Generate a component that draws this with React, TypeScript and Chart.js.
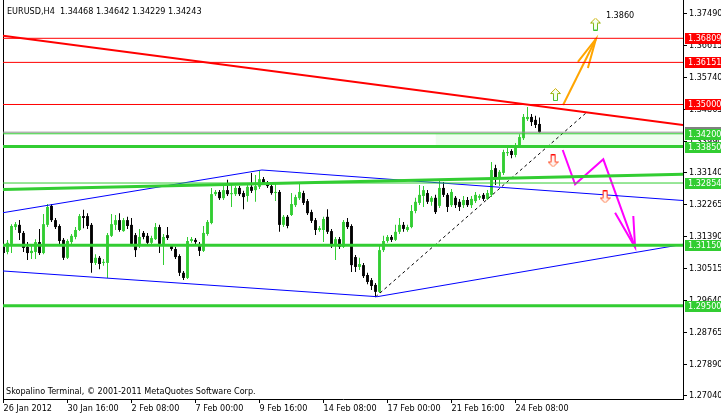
import React, { useEffect, useRef } from 'react';
import { Chart, registerables } from 'chart.js';

Chart.register(...registerables);

// ---------- axes ----------
const xTickSlots = [0, 16, 32, 48, 64, 80, 96, 112, 128];
const xTickLabels = ['26 Jan 2012', '30 Jan 16:00', '2 Feb 08:00', '7 Feb 00:00', '9 Feb 16:00', '14 Feb 08:00', '17 Feb 00:00', '21 Feb 16:00', '24 Feb 08:00'];
const yTickLabels = ['1.37490', '1.36615', '1.35740', '1.34865', '1.33990', '1.33140', '1.32265', '1.31390', '1.30515', '1.29640', '1.28765', '1.27890', '1.27040'];
const yRange = [1.26951, 1.37856];
const xRange = [-0.125, 169.875];

// ---------- EURUSD H4 candles ----------
const opens = [
  1.3111, 1.3097, 1.3119, 1.3165, 1.3171, 1.3149, 1.3111, 1.3094, 1.3097, 1.3124,
  1.3094, 1.3171, 1.3223, 1.3184, 1.3168, 1.3130, 1.3081, 1.3124, 1.3138, 1.3157,
  1.3195, 1.3195, 1.3171, 1.3067, 1.3081, 1.3067, 1.3067, 1.3141, 1.3171, 1.3184,
  1.3154, 1.3184, 1.3171, 1.3143, 1.3113, 1.3149, 1.3141, 1.3122, 1.3132, 1.3165,
  1.3113, 1.3143, 1.3113, 1.3105, 1.3086, 1.3040, 1.3026, 1.3127, 1.3130, 1.3119,
  1.3100, 1.3146, 1.3176, 1.3255, 1.3261, 1.3244, 1.3266, 1.3255, 1.3255, 1.3272,
  1.3258, 1.3250, 1.3275, 1.3266, 1.3275, 1.3296, 1.3285, 1.3277, 1.3258, 1.3261,
  1.3171, 1.3193, 1.3198, 1.3225, 1.3244, 1.3258, 1.3236, 1.3206, 1.3184, 1.3157,
  1.3157, 1.3193, 1.3154, 1.3113, 1.3132, 1.3111, 1.3179, 1.3168, 1.3083, 1.3056,
  1.3061, 1.3034, 1.3020, 1.3007, 1.2988, 1.3102, 1.3127, 1.3138, 1.3130, 1.3152,
  1.3171, 1.3157, 1.3165, 1.3209, 1.3231, 1.3250, 1.3258, 1.3234, 1.3245, 1.3223,
  1.3272, 1.3253, 1.3225, 1.3245, 1.3234, 1.3225, 1.3239, 1.3225, 1.3236, 1.3245,
  1.3253, 1.3242, 1.3253, 1.3326, 1.3299, 1.3313, 1.3367, 1.3373, 1.3362, 1.3387,
  1.3408, 1.3460, 1.3466, 1.3458, 1.34468,
];
const highs = [
  1.3119, 1.3130, 1.3173, 1.3179, 1.3184, 1.3154, 1.3124, 1.3119, 1.3132, 1.3160,
  1.3201, 1.3228, 1.3228, 1.3190, 1.3173, 1.3135, 1.3132, 1.3146, 1.3165, 1.3201,
  1.3212, 1.3203, 1.3176, 1.3091, 1.3086, 1.3078, 1.3149, 1.3201, 1.3198, 1.3203,
  1.3190, 1.3193, 1.3190, 1.3149, 1.3160, 1.3154, 1.3149, 1.3141, 1.3176, 1.3171,
  1.3146, 1.3165, 1.3119, 1.3111, 1.3091, 1.3045, 1.3138, 1.3138, 1.3135, 1.3124,
  1.3168, 1.3184, 1.3272, 1.3266, 1.3266, 1.3277, 1.3294, 1.3285, 1.3277, 1.3277,
  1.3264, 1.3280, 1.3313, 1.3307, 1.3318, 1.3302, 1.3291, 1.3283, 1.3288, 1.3266,
  1.3198, 1.3198, 1.3258, 1.3253, 1.3285, 1.3264, 1.3242, 1.3212, 1.3190, 1.3168,
  1.3193, 1.3214, 1.3160, 1.3138, 1.3138, 1.3184, 1.3190, 1.3173, 1.3089, 1.3081,
  1.3067, 1.3040, 1.3026, 1.3012, 1.3116, 1.3141, 1.3143, 1.3143, 1.3171, 1.3190,
  1.3179, 1.3171, 1.3225, 1.3245, 1.3280, 1.3277, 1.3266, 1.3250, 1.3253, 1.3294,
  1.3288, 1.3258, 1.3269, 1.3250, 1.3242, 1.3250, 1.3247, 1.3250, 1.3261, 1.3255,
  1.3258, 1.3266, 1.3343, 1.3335, 1.3321, 1.3376, 1.3387, 1.3378, 1.3395, 1.3419,
  1.3474, 1.3493, 1.3474, 1.3469, 1.34642,
];
const lows = [
  1.3089, 1.3091, 1.3094, 1.3157, 1.3130, 1.3097, 1.3075, 1.3078, 1.3078, 1.3089,
  1.3091, 1.3165, 1.3179, 1.3160, 1.3119, 1.3075, 1.3078, 1.3119, 1.3132, 1.3154,
  1.3162, 1.3160, 1.3040, 1.3061, 1.3050, 1.3059, 1.3026, 1.3138, 1.3157, 1.3152,
  1.3152, 1.3160, 1.3113, 1.3083, 1.3108, 1.3132, 1.3116, 1.3116, 1.3130, 1.3094,
  1.3061, 1.3130, 1.3100, 1.3078, 1.3031, 1.3020, 1.3023, 1.3122, 1.3119, 1.3086,
  1.3097, 1.3141, 1.3173, 1.3250, 1.3239, 1.3239, 1.3250, 1.3220, 1.3250, 1.3250,
  1.3214, 1.3234, 1.3258, 1.3234, 1.3269, 1.3280, 1.3272, 1.3253, 1.3236, 1.3152,
  1.3165, 1.3162, 1.3195, 1.3220, 1.3239, 1.3225, 1.3198, 1.3176, 1.3143, 1.3152,
  1.3124, 1.3146, 1.3108, 1.3075, 1.3105, 1.3108, 1.3160, 1.3042, 1.3042, 1.3048,
  1.3026, 1.3009, 1.2993, 1.2974, 1.2985, 1.3097, 1.3122, 1.3124, 1.3127, 1.3146,
  1.3152, 1.3152, 1.3162, 1.3203, 1.3225, 1.3220, 1.3228, 1.3223, 1.3201, 1.3217,
  1.3247, 1.3206, 1.3220, 1.3217, 1.3209, 1.3217, 1.3220, 1.3217, 1.3231, 1.3239,
  1.3236, 1.3239, 1.3247, 1.3280, 1.3277, 1.3307, 1.3359, 1.3353, 1.3356, 1.3381,
  1.3403, 1.3455, 1.3441, 1.3436, 1.34229,
];
const closes = [
  1.3094, 1.3122, 1.3168, 1.3173, 1.3149, 1.3108, 1.3094, 1.3100, 1.3124, 1.3094,
  1.3173, 1.3220, 1.3184, 1.3165, 1.3127, 1.3081, 1.3127, 1.3141, 1.3157, 1.3195,
  1.3190, 1.3168, 1.3067, 1.3081, 1.3064, 1.3070, 1.3143, 1.3173, 1.3184, 1.3157,
  1.3184, 1.3168, 1.3119, 1.3102, 1.3138, 1.3138, 1.3122, 1.3135, 1.3165, 1.3119,
  1.3138, 1.3135, 1.3105, 1.3083, 1.3040, 1.3026, 1.3127, 1.3132, 1.3124, 1.3100,
  1.3149, 1.3179, 1.3255, 1.3261, 1.3244, 1.3266, 1.3255, 1.3256, 1.3272, 1.3255,
  1.3247, 1.3275, 1.3264, 1.3277, 1.3296, 1.3285, 1.3277, 1.3258, 1.3261, 1.3171,
  1.3193, 1.3168, 1.3228, 1.3247, 1.3261, 1.3231, 1.3203, 1.3182, 1.3157, 1.3162,
  1.3187, 1.3152, 1.3113, 1.3132, 1.3111, 1.3179, 1.3165, 1.3061, 1.3056, 1.3064,
  1.3031, 1.3015, 1.3004, 1.2988, 1.3102, 1.3127, 1.3138, 1.3130, 1.3152, 1.3171,
  1.3160, 1.3165, 1.3209, 1.3234, 1.3253, 1.3266, 1.3234, 1.3245, 1.3206, 1.3272,
  1.3253, 1.3220, 1.3261, 1.3225, 1.3220, 1.3239, 1.3225, 1.3242, 1.3253, 1.3250,
  1.3242, 1.3258, 1.3321, 1.3299, 1.3316, 1.3370, 1.3370, 1.3362, 1.3389, 1.3411,
  1.3466, 1.3466, 1.3452, 1.3444, 1.34243,
];

// ---------- horizontal levels ----------
const redLevels = [1.36809, 1.36151, 1.35];
const greenThinLevels = [1.342, 1.32854];
const greenThickLevels = [1.3385, 1.3115, 1.295];
const bidPrice = 1.34243;
const labelLevels = [1.36809, 1.36151, 1.35, 1.342, 1.3385, 1.32854, 1.3115, 1.295];
const labelColors = ['#FF0000', '#FF0000', '#FF0000', '#32CD32', '#32CD32', '#32CD32', '#32CD32', '#32CD32'];

// ---------- drawn objects (slot index, price) ----------
const redTrendX = [-0.125, 169.875];
const redTrendY = [1.3688, 1.3444];
const greenTrendX = [-0.125, 169.875];
const greenTrendY = [1.32677, 1.33092];
const blueUpperX = [-0.125, 64.6, 169.875];
const blueUpperY = [1.32043, 1.3321, 1.32376];
const blueLowerX = [-0.125, 93.4, 169.875];
const blueLowerY = [1.3045, 1.29747, 1.31179];
const dashX = [93, 145.9];
const dashY = [1.2974, 1.34795];
const orangeShaftX = [139.9, 148.1];
const orangeShaftY = [1.34986, 1.3679];
const orangeHeadX = [143.6, 148.1, 146.1];
const orangeHeadY = [1.36162, 1.3679, 1.35998];
const magentaX = [139.8, 142.9, 149.95, 157.9];
const magentaY = [1.33757, 1.32819, 1.33502, 1.31097];
const magentaHeadX = [152.9, 157.9, 157.45];
const magentaHeadY = [1.32043, 1.31097, 1.31953];
const upArrowX = [138, 148];
const upArrowY = [1.35273, 1.372];
const downArrowX = [137.4, 150.4];
const downArrowY = [1.33456, 1.32472];
const zoneX = [108, 169.875];
const zoneTop = 1.342;
const zoneBottom = 1.3385;
const targetText = '1.3860';
const targetX = 150.6;
const targetY = 1.37465;

const titleText = 'EURUSD,H4  1.34468 1.34642 1.34229 1.34243';
const copyrightText = 'Skopalino Terminal, \u00A9 2001-2011 MetaQuotes Software Corp.';

const FAMILY = '"DejaVu Sans Condensed", "DejaVu Sans", sans-serif';
const FONT_PX = 9;
const GREEN = '#32CD32';

function makeArrow(up: boolean): HTMLCanvasElement {
  const c = document.createElement('canvas');
  c.width = 11;
  c.height = 13;
  const g = c.getContext('2d')!;
  g.save();
  if (!up) {
    g.translate(0, 13);
    g.scale(1, -1);
  }
  g.beginPath();
  g.moveTo(5.5, 0.5);
  g.lineTo(10.5, 5.5);
  g.lineTo(7.5, 5.5);
  g.lineTo(7.5, 12.5);
  g.lineTo(3.5, 12.5);
  g.lineTo(3.5, 5.5);
  g.lineTo(0.5, 5.5);
  g.closePath();
  g.fillStyle = up ? '#F4FFF0' : '#FFF4F0';
  g.fill();
  const grad = g.createLinearGradient(0, 0, 0, 13);
  if (up) {
    grad.addColorStop(0, '#E8B000');
    grad.addColorStop(1, '#30C030');
  } else {
    grad.addColorStop(0, '#FF8040');
    grad.addColorStop(1, '#FF0000');
  }
  g.strokeStyle = grad;
  g.lineWidth = 1;
  g.stroke();
  g.restore();
  return c;
}

function lineSet(xs: number[], ys: number[], color: string, width: number, extra: any = {}) {
  return {
    type: 'line',
    data: xs.map((x, i) => ({ x, y: ys[i] })),
    borderColor: color,
    backgroundColor: color,
    borderWidth: width,
    pointRadius: 0,
    fill: false,
    tension: 0,
    order: 50,
    xAxisID: 'x',
    yAxisID: 'y',
    ...extra,
  };
}

const overlayPlugin = {
  id: 'mt4overlay',
  afterDraw(chart: any) {
    const ctx = chart.ctx as CanvasRenderingContext2D;
    const ys = chart.scales.y;
    const xs = chart.scales.x;
    ctx.save();
    ctx.font = `${FONT_PX}px ${FAMILY}`;
    const by = Math.round(ys.getPixelForValue(bidPrice));
    ctx.fillStyle = '#808080';
    ctx.fillRect(685, by - 5, 36, 11);
    labelLevels.forEach((v, i) => {
      const py = Math.round(ys.getPixelForValue(v));
      ctx.fillStyle = labelColors[i];
      ctx.fillRect(685, py - 5, 36, 11);
      ctx.fillStyle = '#FFFFFF';
      ctx.textBaseline = 'middle';
      ctx.textAlign = 'left';
      ctx.fillText(v.toFixed(5), 688, py + 0.5);
    });
    ctx.fillStyle = '#000000';
    ctx.textBaseline = 'alphabetic';
    ctx.textAlign = 'left';
    ctx.fillText(titleText, 7, 14);
    ctx.fillText(copyrightText, 6, 394);
    ctx.fillText(targetText, xs.getPixelForValue(targetX), ys.getPixelForValue(targetY) + 4);
    ctx.restore();
  },
};

function zeroPad(s: any) {
  s.paddingLeft = 0;
  s.paddingRight = 0;
  s.paddingTop = 0;
  s.paddingBottom = 0;
}

function CandleChart() {
  const ref = useRef<HTMLCanvasElement | null>(null);
  useEffect(() => {
    if (!ref.current) return;
    const colors = opens.map((o, i) => (closes[i] >= o ? GREEN : '#000000'));
    const upImg = makeArrow(true);
    const downImg = makeArrow(false);
    const datasets: any[] = [
      {
        type: 'line',
        data: zoneX.map((x) => ({ x, y: zoneTop })),
        borderWidth: 0,
        pointRadius: 0,
        fill: { value: zoneBottom },
        backgroundColor: '#EEFFEE',
        order: 100,
        xAxisID: 'x',
        yAxisID: 'y',
      },
      {
        type: 'bar',
        data: opens.map((_, i) => ({ x: i, y: [lows[i], highs[i]] })),
        backgroundColor: colors,
        borderWidth: 0,
        maxBarThickness: 1,
        grouped: false,
        inflateAmount: 0,
        order: 90,
        xAxisID: 'x',
        yAxisID: 'y',
      },
      {
        type: 'bar',
        data: opens.map((o, i) => ({ x: i, y: [o, closes[i]] })),
        backgroundColor: colors,
        borderWidth: 0,
        maxBarThickness: 3,
        minBarLength: 1,
        grouped: false,
        inflateAmount: 0,
        order: 80,
        xAxisID: 'x',
        yAxisID: 'y',
      },
      ...redLevels.map((v) => lineSet([-1, 171], [v, v], '#FF0000', 1)),
      ...greenThinLevels.map((v) => lineSet([-1, 171], [v, v], GREEN, 1)),
      lineSet([-1, 171], [bidPrice, bidPrice], '#909090', 1),
      ...greenThickLevels.map((v) => lineSet([-1, 171], [v, v], GREEN, 3)),
      lineSet(greenTrendX, greenTrendY, GREEN, 3),
      lineSet(blueUpperX, blueUpperY, '#0000FF', 1),
      lineSet(blueLowerX, blueLowerY, '#0000FF', 1),
      lineSet(redTrendX, redTrendY, '#FF0000', 2),
      lineSet(dashX, dashY, '#000000', 1, { borderDash: [3, 3] }),
      lineSet(orangeShaftX, orangeShaftY, '#FFA500', 2),
      lineSet(orangeHeadX, orangeHeadY, '#FFA500', 2),
      lineSet(magentaX, magentaY, '#FF00FF', 2),
      lineSet(magentaHeadX, magentaHeadY, '#FF00FF', 2),
      {
        type: 'line',
        data: upArrowX.map((x, i) => ({ x, y: upArrowY[i] })),
        showLine: false,
        pointStyle: upImg,
        pointRadius: 6,
        order: 10,
        xAxisID: 'x',
        yAxisID: 'y',
      },
      {
        type: 'line',
        data: downArrowX.map((x, i) => ({ x, y: downArrowY[i] })),
        showLine: false,
        pointStyle: downImg,
        pointRadius: 6,
        order: 10,
        xAxisID: 'x',
        yAxisID: 'y',
      },
    ];
    const font = { family: FAMILY, size: FONT_PX };
    const chart = new Chart(ref.current, {
      type: 'bar',
      data: { datasets },
      plugins: [overlayPlugin],
      options: {
        animation: false,
        responsive: false,
        devicePixelRatio: 1,
        events: [],
        layout: { padding: 0, autoPadding: false },
        plugins: { legend: { display: false }, tooltip: { enabled: false }, title: { display: false } },
        scales: {
          x: {
            type: 'linear',
            min: xRange[0],
            max: xRange[1],
            offset: false,
            position: 'bottom',
            grid: { display: true, offset: false, drawOnChartArea: false, drawTicks: true, tickLength: 4, color: '#000' },
            border: { display: true, color: '#000' },
            ticks: {
              autoSkip: false,
              maxRotation: 0,
              minRotation: 0,
              align: 'start',
              padding: 0,
              color: '#000',
              font,
              callback: (v: any) => {
                const k = xTickSlots.indexOf(Number(v));
                return k >= 0 ? xTickLabels[k] : '';
              },
            },
            afterBuildTicks: (s: any) => {
              s.ticks = xTickSlots.map((v) => ({ value: v }));
            },
            afterFit: (s: any) => {
              s.height = 17;
              zeroPad(s);
            },
          },
          y: {
            type: 'linear',
            position: 'right',
            min: yRange[0],
            max: yRange[1],
            grid: { display: true, drawOnChartArea: false, drawTicks: true, tickLength: 4, color: '#000' },
            border: { display: true, color: '#000' },
            ticks: {
              autoSkip: false,
              padding: 2,
              color: '#000',
              font,
              callback: (_v: any, idx: number) => yTickLabels[idx],
            },
            afterBuildTicks: (s: any) => {
              s.ticks = yTickLabels.map((t) => ({ value: parseFloat(t) }));
            },
            afterFit: (s: any) => {
              s.width = 38;
              zeroPad(s);
            },
          },
          yl: {
            type: 'linear',
            position: 'left',
            display: true,
            grid: { display: false, drawOnChartArea: false, drawTicks: false },
            border: { display: true, color: '#000' },
            ticks: { display: false },
            afterFit: (s: any) => {
              s.width = 3;
              zeroPad(s);
            },
          },
        },
      } as any,
    } as any);
    return () => chart.destroy();
  }, []);
  return <canvas ref={ref} width={721} height={416} style={{ display: 'block', width: 721, height: 416 }} />;
}

export default function App() {
  return (
    <div style={{ position: 'fixed', left: 0, top: 0, width: 721, height: 416, background: '#fff' }}>
      <CandleChart />
    </div>
  );
}
